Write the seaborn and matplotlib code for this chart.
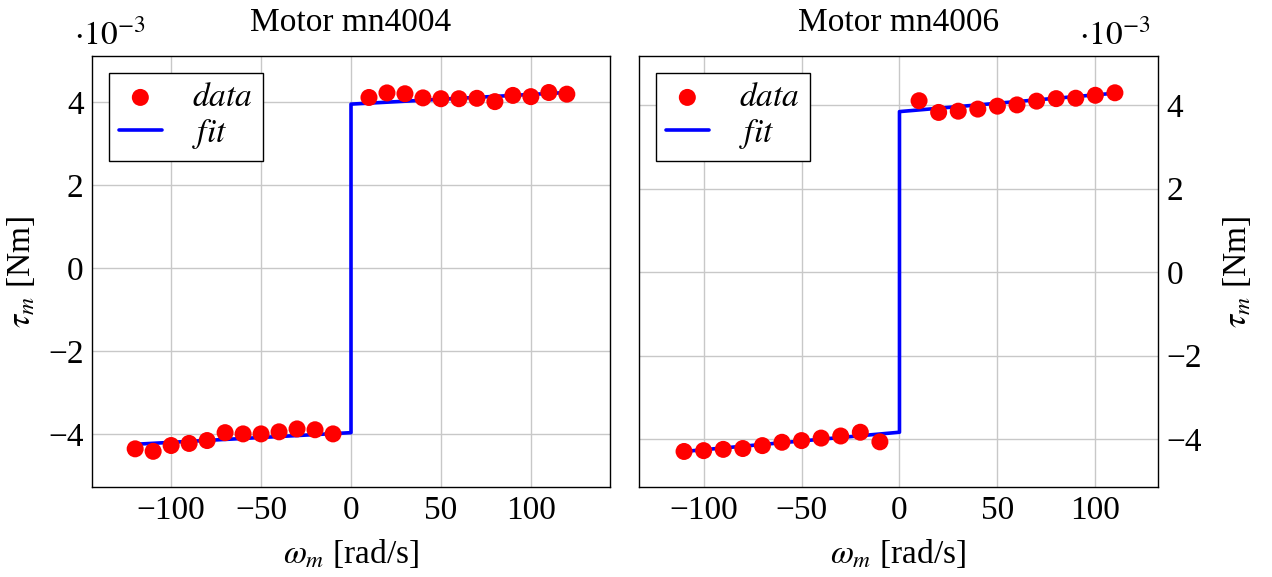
import numpy as np
import pandas as pd
import matplotlib
matplotlib.use("Agg")
import matplotlib.pyplot as plt
import seaborn as sns

# ---- data (torque in units of 1e-3 Nm) ----
w_4004_data = [-120, -110, -100, -90, -80, -70, -60, -50, -40, -30, -20, -10,
               10, 20, 30, 40, 50, 60, 70, 80, 90, 100, 110, 120]
tau_4004_data = [-4.35, -4.41, -4.27, -4.22, -4.15, -3.96, -3.99, -3.99, -3.94, -3.87, -3.89, -3.99,
                 4.12, 4.23, 4.21, 4.11, 4.09, 4.09, 4.10, 4.02, 4.17, 4.14, 4.24, 4.20]
w_4004_fit = [-120, 0, 0, 120]
tau_4004_fit = [-4.24, -3.96, 3.96, 4.24]

w_4006_data = [-110, -100, -90, -80, -70, -60, -50, -40, -30, -20, -10,
               10, 20, 30, 40, 50, 60, 70, 80, 90, 100, 110]
tau_4006_data = [-4.29, -4.27, -4.24, -4.22, -4.15, -4.07, -4.03, -3.97, -3.92, -3.83, -4.06,
                 4.10, 3.82, 3.85, 3.90, 3.97, 4.00, 4.09, 4.15, 4.16, 4.23, 4.29]
w_4006_fit = [-110, 0, 0, 110]
tau_4006_fit = [-4.29, -3.83, 3.84, 4.28]

titles = ["Motor mn4004", "Motor mn4006"]
xticks = [-100, -50, 0, 50, 100]
yticks = [-4, -2, 0, 2, 4]

sns.set_theme(style="whitegrid")
plt.rcParams["font.family"] = ["Liberation Serif", "DejaVu Serif"]
plt.rcParams["mathtext.fontset"] = "stix"
plt.rcParams["axes.unicode_minus"] = True
plt.rcParams["text.color"] = "black"
plt.rcParams["axes.labelcolor"] = "black"
plt.rcParams["xtick.color"] = "black"
plt.rcParams["ytick.color"] = "black"

fig = plt.figure(figsize=(12.72, 5.77), dpi=100)
axL = fig.add_axes([92/1272, 1-487/577, 518/1272, 431/577])
axR = fig.add_axes([639/1272, 1-487/577, 519/1272, 431/577])

panels = [
    (axL, w_4004_data, tau_4004_data, w_4004_fit, tau_4004_fit, (-144, 144), (-5.27, 5.12)),
    (axR, w_4006_data, tau_4006_data, w_4006_fit, tau_4006_fit, (-133, 132), (-5.14, 5.17)),
]

fs = 24
for i, (ax, wd, td, wf, tf, xl, yl) in enumerate(panels):
    dfd = pd.DataFrame({"w": wd, "tau": td})
    dff = pd.DataFrame({"w": wf, "tau": tf})
    sns.lineplot(data=dff, x="w", y="tau", ax=ax, color="#0000ff", lw=2.6,
                 sort=False, estimator=None, label=r"$fit$", zorder=2)
    sns.scatterplot(data=dfd, x="w", y="tau", ax=ax, color="#ff0000", s=150,
                    edgecolor="none", label=r"$data$", zorder=3)
    ax.set_xlim(*xl)
    ax.set_ylim(*yl)
    ax.set_xticks(xticks)
    ax.set_yticks(yticks)
    ax.grid(True, color="#c8c8c8", lw=1.0)
    for s in ax.spines.values():
        s.set_color("black")
        s.set_linewidth(1.0)
    ax.tick_params(labelsize=fs, pad=6, length=0)
    ax.set_title(titles[i], fontsize=fs, pad=18)
    ax.set_xlabel(r"$\omega_m$ [rad/s]", fontsize=fs, labelpad=8)
    ax.set_ylabel(r"$\tau_m$ [Nm]", fontsize=fs, labelpad=8)
    h, l = ax.get_legend_handles_labels()
    order = [l.index(r"$data$"), l.index(r"$fit$")]
    leg = ax.legend([h[j] for j in order], [l[j] for j in order], loc="upper left",
                    fontsize=fs, frameon=True, fancybox=False, edgecolor="black",
                    framealpha=1, borderpad=0.3, handlelength=1.3, handletextpad=0.9,
                    labelspacing=0.1, borderaxespad=0.5)
    leg.get_frame().set_linewidth(1.0)

axL.text(-0.035, 1.01, r"$\cdot 10^{-3}$", transform=axL.transAxes, fontsize=fs,
         ha="left", va="bottom")
axR.text(0.985, 1.01, r"$\cdot 10^{-3}$", transform=axR.transAxes, fontsize=fs,
         ha="right", va="bottom")

axR.yaxis.tick_right()
axR.yaxis.set_label_position("right")
axR.set_ylabel(r"$\tau_m$ [Nm]", fontsize=fs, labelpad=14)

fig.savefig("out.png", dpi=100)
